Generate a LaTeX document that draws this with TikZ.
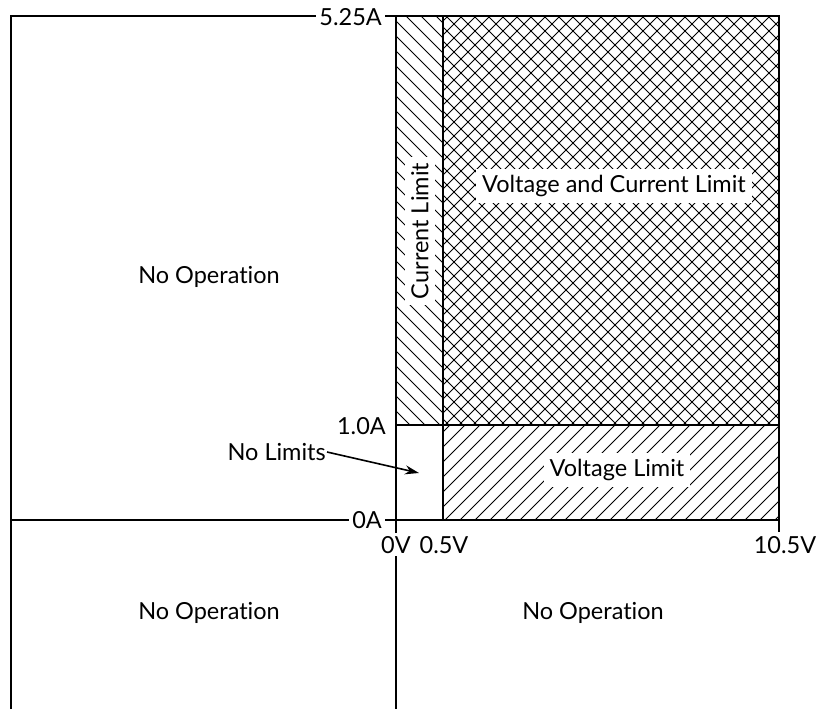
\documentclass[tikz,border=0pt]{standalone}
\usepackage{fontspec}
\setmainfont[Ligatures={NoCommon}]{Lato}
\usetikzlibrary{arrows.meta}
\begin{document}
\begin{tikzpicture}[x=1pt,y=-1pt,
  axis/.style={line width=2pt},
  hline/.style={line width=0.9pt},
  lbl/.style={font=\fontsize{23.5}{27}\selectfont, inner sep=2pt},
  wlbl/.style={lbl, fill=white, inner sep=6pt}]
\useasboundingbox (0,0) rectangle (818,709);
% hatched regions
\begin{scope}
  \clip (396,16) rectangle (443,425);
  \foreach \k in {-30,-15,...,430} \draw[hline] (\k+16,16) -- (\k+425,425);
\end{scope}
\begin{scope}
  \clip (443,16) rectangle (779,425);
  \foreach \k in {10,24,...,770} \draw[hline] (\k+16,16) -- (\k+425,425);
  \foreach \k in {450,464,...,1210} \draw[hline] (\k-425,425) -- (\k-16,16);
\end{scope}
\begin{scope}
  \clip (443,425) rectangle (779,520);
  \foreach \k in {860,875,...,1310} \draw[hline] (\k-520,520) -- (\k-425,425);
\end{scope}
% frame and axes
\draw[axis] (11,709) -- (11,16) -- (779,16) -- (779,532);
\draw[axis] (11,520) -- (398,520);
\draw[axis] (396,520) -- (779,520);
\draw[axis] (396,16) -- (396,533);
\draw[axis] (396,556) -- (396,709);
\draw[axis] (443,16) -- (443,520);
\draw[axis] (396,425) -- (779,425);
% axis labels
\node[lbl, fill=white, anchor=east, inner sep=3pt] (a525) at (385,17) {5.25A};
\node[lbl, anchor=east, inner sep=1pt] (a10) at (387,426) {1.0A};
\node[lbl, fill=white, anchor=east, inner sep=3pt] (a0) at (385,520) {0A};
\node[lbl] (v0) at (396,545) {0V};
\node[lbl] (v05) at (444,545) {0.5V};
\node[lbl] (v105) at (785,545) {10.5V};
% region labels
\node[lbl] (noop1) at (209,277) {No Operation};
\node[lbl] (noop2) at (209,613) {No Operation};
\node[lbl] (noop3) at (593,613) {No Operation};
\node[wlbl, rotate=90] (cur) at (420,231) {Current Limit};
\node[wlbl] (vcl) at (614,186) {Voltage and Current Limit};
\node[wlbl] (vl) at (617,470) {Voltage Limit};
\node[lbl, anchor=east, inner sep=1pt] (nol) at (327,452) {No Limits};
\coordinate (nolt) at (419,473);
\draw[line width=1.6pt, -{Stealth[length=14pt,width=9pt]}] (nol.east) -- (nolt);
\end{tikzpicture}
\end{document}
